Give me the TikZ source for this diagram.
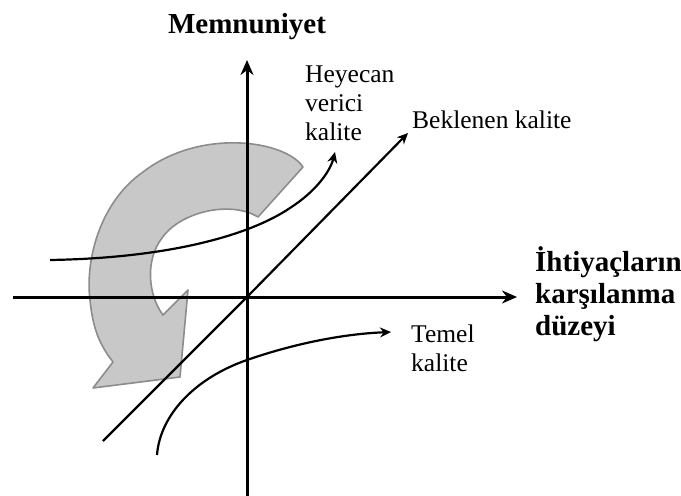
\documentclass[tikz,border=0pt]{standalone}
\usepackage{fontspec}
\setmainfont{Liberation Serif}
\usetikzlibrary{arrows.meta}
\definecolor{arrfill}{RGB}{200,200,200}
\definecolor{arredge}{RGB}{140,140,140}
\tikzset{
  axis/.style={line width=3pt,-{Stealth[length=15pt,width=13pt]}},
  kcurve/.style={line width=2.2pt,-{Stealth[length=11pt,width=10pt]}},
  lbl/.style={font=\fontsize{25.5}{29}\selectfont,inner sep=0pt,align=left},
  blbl/.style={font=\bfseries\fontsize{29}{32}\selectfont,inner sep=0pt,align=left},
  bigarrow/.style={fill=arrfill,draw=arredge,line width=1.6pt,line join=round}
}
\begin{document}
\begin{tikzpicture}[x=1pt,y=-1pt]
\useasboundingbox (0,0) rectangle (681,496);
% big gray curved arrow
\draw[bigarrow] (303,167) .. controls (285,140) and (200,128) .. (143,172)
  .. controls (100,202) and (85,260) .. (90,300)
  .. controls (93,330) and (100,345) .. (113,362)
  -- (93,388) -- (180,377) -- (188,290) -- (163,315)
  .. controls (148,295) and (145,260) .. (162,238)
  .. controls (180,212) and (230,200) .. (258,217) -- cycle;
% coordinates
\coordinate (o) at (247,297);
\coordinate (xs) at (13,297);
\coordinate (xe) at (517,297);
\coordinate (ys) at (247,496);
\coordinate (ye) at (247,60);
% labels
\node[blbl,anchor=base] (memn) at (247,33) {Memnuniyet};
\node[blbl,anchor=north west] (ihti) at (535,246) {İhtiyaçların\\karşılanma\\düzeyi};
\node[lbl,anchor=north west] (hey) at (305,66) {Heyecan\\verici\\kalite};
\node[lbl,anchor=base west] (bek) at (412,128) {Beklenen kalite};
\node[lbl,anchor=north west] (tem) at (411,325) {Temel\\kalite};
% axes
\draw[axis] (xs) -- (xe);
\draw[axis] (ys) -- (ye);
% curves
\coordinate (hs) at (50,260);
\coordinate (he) at (335,152);
\coordinate (bs) at (103,441);
\coordinate (be) at (408,133);
\coordinate (ts) at (157,455);
\coordinate (te) at (391,332);
\draw[kcurve] (hs) .. controls (170,258) and (250,235) .. (290,208)
  .. controls (315,192) and (330,172) .. (he);
\draw[kcurve] (bs) -- (o) -- (be);
\draw[kcurve] (ts) .. controls (160,415) and (195,378) .. (247,360)
  .. controls (290,345) and (340,334) .. (te);
\end{tikzpicture}
\end{document}
